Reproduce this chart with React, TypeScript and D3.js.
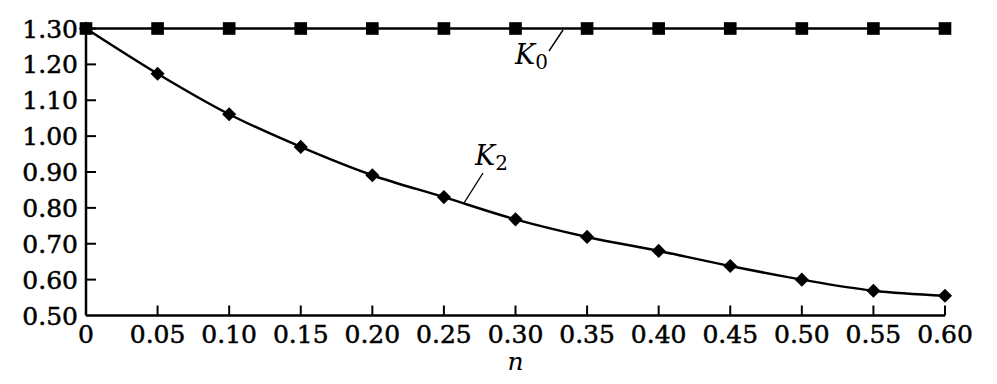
import React from "react";
import * as d3 from "d3";

const nValues = [0, 0.05, 0.1, 0.15, 0.2, 0.25, 0.3, 0.35, 0.4, 0.45, 0.5, 0.55, 0.6];
const k0Values = [1.3, 1.3, 1.3, 1.3, 1.3, 1.3, 1.3, 1.3, 1.3, 1.3, 1.3, 1.3, 1.3];
const k2Values = [1.3, 1.174, 1.061, 0.97, 0.891, 0.83, 0.768, 0.719, 0.68, 0.638, 0.6, 0.569, 0.555];
const xTicks = [0, 0.05, 0.1, 0.15, 0.2, 0.25, 0.3, 0.35, 0.4, 0.45, 0.5, 0.55, 0.6];
const xTickLabels = ["0", "0.05", "0.10", "0.15", "0.20", "0.25", "0.30", "0.35", "0.40", "0.45", "0.50", "0.55", "0.60"];
const yTicks = [0.5, 0.6, 0.7, 0.8, 0.9, 1.0, 1.1, 1.2, 1.3];
const yTickLabels = ["0.50", "0.60", "0.70", "0.80", "0.90", "1.00", "1.10", "1.20", "1.30"];

const W = 997;
const H = 384;
const FONT = "'DejaVu Serif', 'Liberation Serif', serif";

export default function App() {
  const x = d3.scaleLinear().domain([0, 0.6]).range([86, 945]);
  const y = d3.scaleLinear().domain([0.5, 1.3]).range([315.5, 28.5]);

  const line = d3
    .line<number>()
    .x((_, i) => x(nValues[i]))
    .y((d) => y(d))
    .curve(d3.curveMonotoneX);

  const sq = d3.symbol().type(d3.symbolSquare).size(160)()!;
  const dia = d3.symbol().type(d3.symbolSquare).size(100)()!;

  const textProps = {
    fontFamily: FONT,
    fontSize: 25,
    fill: "#000",
    stroke: "#000",
    strokeWidth: 0.5,
  };

  return (
    <svg
      width={W}
      height={H}
      style={{ position: "absolute", left: 0, top: 0, background: "#fff" }}
    >
      {/* axes */}
      <line x1={x(0)} x2={x(0.6)} y1={y(0.5)} y2={y(0.5)} stroke="#000" strokeWidth={2.5} />
      <line x1={x(0)} x2={x(0)} y1={y(0.5)} y2={y(1.3)} stroke="#000" strokeWidth={2.5} />

      {/* y ticks */}
      {yTicks.map((t, i) => (
        <g key={"y" + i}>
          {i > 0 && (
            <line x1={x(0)} x2={x(0) + 10} y1={y(t)} y2={y(t)} stroke="#000" strokeWidth={2} />
          )}
          <text x={78} y={y(t)} dy="0.36em" textAnchor="end" {...textProps}>
            {yTickLabels[i]}
          </text>
        </g>
      ))}

      {/* x ticks */}
      {xTicks.map((t, i) => (
        <g key={"x" + i}>
          {i > 0 && (
            <line x1={x(t)} x2={x(t)} y1={y(0.5)} y2={y(0.5) - 10} stroke="#000" strokeWidth={2} />
          )}
          <text x={x(t)} y={343} textAnchor="middle" {...textProps}>
            {xTickLabels[i]}
          </text>
        </g>
      ))}

      <text
        x={(x(0) + x(0.6)) / 2}
        y={370}
        textAnchor="middle"
        fontFamily={FONT}
        fontStyle="italic"
        fontSize={25}
        fill="#000"
      >
        n
      </text>

      {/* K0 series */}
      <path d={line(k0Values) || ""} fill="none" stroke="#000" strokeWidth={2.5} />
      {k0Values.map((v, i) => (
        <path key={"s" + i} d={sq} transform={`translate(${x(nValues[i])},${y(v)})`} fill="#000" />
      ))}

      {/* K2 series */}
      <path d={line(k2Values) || ""} fill="none" stroke="#000" strokeWidth={2.5} />
      {k2Values.map((v, i) => (
        <path
          key={"d" + i}
          d={dia}
          transform={`translate(${x(nValues[i])},${y(v)}) rotate(45)`}
          fill="#000"
        />
      ))}

      {/* annotations */}
      <line x1={563} y1={30} x2={549} y2={51} stroke="#000" strokeWidth={1.4} />
      <text x={515} y={64} fontFamily={FONT} fontSize={27} fill="#000">
        <tspan fontStyle="italic">K</tspan>
        <tspan fontSize={20} dy={5}>0</tspan>
      </text>

      <line x1={483} y1={173} x2={464} y2={203} stroke="#000" strokeWidth={1.4} />
      <text x={475} y={165} fontFamily={FONT} fontSize={27} fill="#000">
        <tspan fontStyle="italic">K</tspan>
        <tspan fontSize={20} dy={5}>2</tspan>
      </text>
    </svg>
  );
}
